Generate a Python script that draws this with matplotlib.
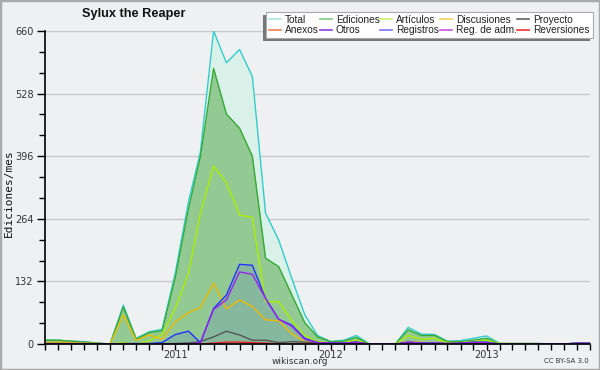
import matplotlib
matplotlib.use('Agg')
import matplotlib.pyplot as plt
import matplotlib.dates as mdates
from matplotlib.lines import Line2D
from matplotlib.patches import Rectangle
from matplotlib.ticker import MultipleLocator, FuncFormatter
import pandas as pd

months = pd.date_range('2010-03-01', periods=43, freq='MS')

total = [8, 8, 6, 5, 2, 0, 82, 12, 26, 31, 150, 300, 405, 660, 593, 621, 564, 276,
         219, 140, 62, 18, 5, 8, 18, 0, 0, 0, 35, 21, 20, 6, 7, 12, 17, 1, 1, 1, 1, 0, 0, 2, 2]
ediciones = [8, 8, 6, 4, 2, 0, 78, 10, 24, 28, 140, 285, 395, 581, 485, 455, 396, 181,
             163, 105, 45, 15, 5, 6, 14, 0, 0, 0, 30, 18, 18, 5, 5, 8, 12, 1, 1, 1, 1, 0, 0, 2, 2]
articulos = [2, 2, 1, 1, 0, 0, 3, 0, 7, 20, 75, 149, 276, 375, 340, 272, 267, 89,
             89, 50, 18, 5, 2, 3, 8, 0, 0, 0, 18, 10, 12, 3, 3, 5, 8, 1, 1, 1, 1, 0, 0, 0, 0]
discusiones = [3, 4, 3, 2, 1, 0, 61, 8, 19, 10, 47, 66, 77, 128, 74, 93, 79, 51,
               49, 22, 5, 2, 1, 2, 3, 0, 0, 0, 5, 3, 2, 1, 1, 2, 2, 0, 0, 0, 0, 0, 0, 0, 0]
registros = [1, 1, 1, 1, 0, 0, 1, 1, 1, 3, 20, 27, 3, 75, 103, 168, 166, 96,
             52, 40, 12, 3, 2, 2, 4, 0, 0, 0, 4, 2, 2, 1, 2, 4, 4, 0, 0, 0, 0, 0, 0, 1, 1]
otros = [0, 0, 0, 0, 0, 0, 0, 0, 0, 0, 0, 0, 3, 73, 93, 152, 147, 96,
         52, 38, 10, 3, 2, 2, 4, 0, 0, 0, 4, 2, 2, 1, 2, 3, 3, 0, 0, 0, 0, 0, 0, 2, 2]
proyecto = [0, 0, 0, 0, 0, 0, 0, 0, 0, 0, 1, 2, 5, 15, 27, 19, 8, 8,
            3, 5, 4, 3, 2, 1, 1, 0, 0, 0, 1, 1, 1, 0, 0, 1, 1, 0, 0, 0, 0, 0, 0, 0, 0]
reversiones = [0, 0, 0, 0, 0, 0, 0, 0, 0, 0, 0, 0, 0, 2, 4, 4, 3, 2,
               0, 0, 0, 0, 0, 0, 0, 0, 0, 0, 0, 0, 0, 0, 0, 0, 0, 0, 0, 0, 0, 0, 0, 0, 0]
anexos = [0, 0, 0, 0, 0, 0, 0, 0, 0, 0, 0, 0, 0, 0, 0, 0, 0, 0,
          0, 0, 0, 0, 0, 0, 0, 0, 0, 0, 0, 0, 0, 0, 0, 0, 0, 0, 0, 0, 0, 0, 0, 0, 0]
reg_adm = [0, 0, 0, 0, 0, 0, 0, 0, 0, 0, 0, 0, 0, 0, 0, 0, 0, 0,
           0, 0, 0, 0, 0, 0, 0, 0, 0, 0, 0, 0, 0, 0, 0, 0, 0, 0, 0, 0, 0, 0, 0, 0, 0]

y_ticks = [0, 132, 264, 396, 528, 660]

NARROW = ['Liberation Sans Narrow', 'Liberation Sans', 'DejaVu Sans']

BG = '#eff0f1'
fig = plt.figure(figsize=(6, 3.7), dpi=100, facecolor=BG)
ax = fig.add_axes([45 / 600, 26 / 370, 545 / 600, 313 / 370])
ax.set_facecolor(BG)

# fills
ax.fill_between(months, total, 0, color='#d9f1e9', lw=0, zorder=1)
ax.fill_between(months, ediciones, 0, color='#93c993', lw=0, zorder=2)
ax.fill_between(months, registros, 0, color='#86b89e', lw=0, zorder=3)

series = [
    (total, '#33cccc'),
    (ediciones, '#33aa33'),
    (articulos, '#aaee00'),
    (discusiones, '#eebb00'),
    (reversiones, '#ee2222'),
    (anexos, '#ff7744'),
    (reg_adm, '#dd44dd'),
    (proyecto, '#555555'),
    (registros, '#2233ff'),
    (otros, '#9922ee'),
]
for vals, col in series:
    ax.plot(months, vals, color=col, lw=1.0, zorder=4)

ax.set_ylim(0, 660)
ax.set_xlim(months[0], months[-1])
ax.set_yticks(y_ticks)
ax.yaxis.set_minor_locator(MultipleLocator(44))
ax.grid(axis='y', which='major', color='#c8c8c8', lw=1, zorder=0)
ax.set_axisbelow(True)

ax.xaxis.set_major_locator(mdates.MonthLocator())
ax.xaxis.set_major_formatter(FuncFormatter(
    lambda v, p: str(mdates.num2date(v).year) if mdates.num2date(v).month == 1 else ''))

for s in ['top', 'right']:
    ax.spines[s].set_visible(False)
for s in ['left', 'bottom']:
    ax.spines[s].set_color('black')
    ax.spines[s].set_linewidth(1.2)
    ax.spines[s].set_zorder(6)

ax.tick_params(axis='y', which='major', length=6, width=1, pad=2, labelsize=7, labelcolor='#333333')
ax.tick_params(axis='y', which='minor', length=4, width=1)
ax.tick_params(axis='x', which='major', length=4, width=1, pad=0, labelsize=7, labelcolor='#333333')

# texts
fig.text(134 / 600, 1 - 14 / 370, 'Sylux the Reaper', ha='center', va='center',
         fontsize=9.2, fontweight='bold', color='#111111', family=NARROW)
fig.text(9 / 600, 1 - 193 / 370, 'Ediciones/mes', rotation=90, ha='center', va='center',
         family='DejaVu Sans Mono', fontsize=8, color='#111111')
fig.text(300 / 600, 1 - 362 / 370, 'wikiscan.org', ha='center', va='center',
         fontsize=6.5, color='#333333')
fig.text(589 / 600, 1 - 361 / 370, 'CC BY-SA 3.0', ha='right', va='center',
         fontsize=5, color='#333333')

# legend (column-major for ncol=5)
leg_items = [
    ('Total', '#a8e8e0'), ('Anexos', '#f08050'),
    ('Ediciones', '#80c880'), ('Otros', '#8844dd'),
    ('Artículos', '#c8f070'), ('Registros', '#7777ee'),
    ('Discusiones', '#f8d060'), ('Reg. de adm.', '#cc55dd'),
    ('Proyecto', '#606060'), ('Reversiones', '#ee3333'),
]
handles = [Line2D([], [], color=c, lw=1.2) for _, c in leg_items]
labels = [l for l, _ in leg_items]
leg = fig.legend(handles, labels, ncol=5, loc='upper left', mode='expand',
                 bbox_to_anchor=(266 / 600, 1 - 38 / 370, 327 / 600, 26.5 / 370),
                 prop={'family': NARROW, 'size': 7.3}, frameon=True, fancybox=False,
                 edgecolor='#aaaaaa', facecolor='white', framealpha=1, borderpad=0.3,
                 handlelength=1.2, handletextpad=0.4, columnspacing=0.3,
                 labelspacing=0.05, borderaxespad=0)
for t in leg.get_texts():
    t.set_color('#222222')
leg.get_frame().set_linewidth(0.8)
leg.set_zorder(10)

fig.canvas.draw()
bb = leg.get_window_extent()
W, H = fig.bbox.width, fig.bbox.height
shadow = Rectangle(((bb.x0 - 3) / W, (bb.y0 - 3) / H), bb.width / W, bb.height / H,
                   transform=fig.transFigure, facecolor='#777777', edgecolor='none', zorder=9)
fig.add_artist(shadow)

border = Rectangle((0, 0), 1, 1, transform=fig.transFigure, fill=False,
                   edgecolor='#aaaaaa', lw=2.5, zorder=20)
fig.add_artist(border)

fig.savefig('out.png', dpi=100, facecolor=BG)
